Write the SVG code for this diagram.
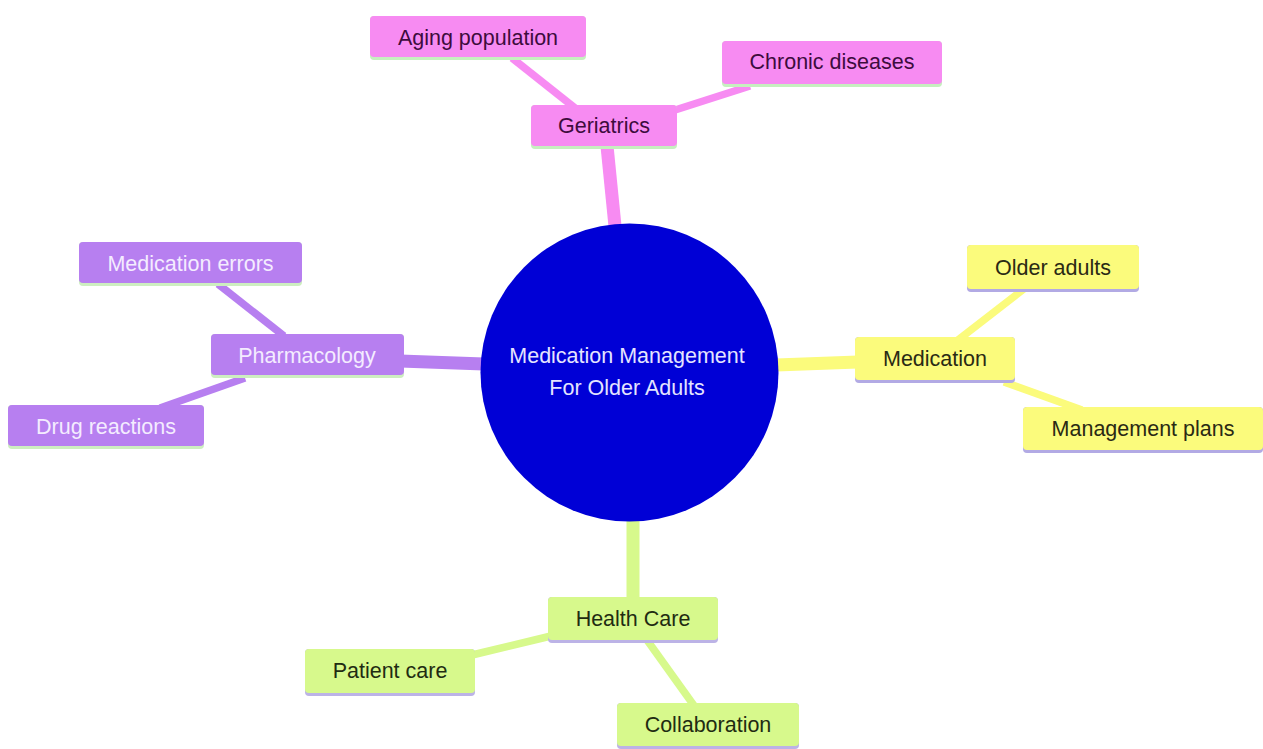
<svg xmlns="http://www.w3.org/2000/svg" width="1263" height="749" viewBox="0 0 1263 749">
<style>
text{font-family:"Liberation Sans",Arial,sans-serif;font-size:21.5px;text-anchor:middle}
.pk{fill:#f78bf2}.pkb{fill:#c6efbf}.pkt{fill:#3d0c3d}
.pu{fill:#b77ff0}.pub{fill:#cdeec0}.put{fill:#f4ecff}
.ye{fill:#fbfb7c}.yeb{fill:#b2aae4}.yet{fill:#2a2a14}
.gr{fill:#d7f98c}.grb{fill:#bcb3e6}.grt{fill:#1f2c12}
.c{fill:none;stroke-linecap:butt}
.cpk{stroke:#f78bf2}.cpu{stroke:#b77ff0}.cye{stroke:#fbfb7c}.cgr{stroke:#d7f98c}
.main{stroke-width:13}.sub{stroke-width:7.5}
</style>
<rect width="1263" height="749" fill="#ffffff"/>
<g id="connectors">
<line class="c cpk main" x1="607" y1="146" x2="615" y2="226"/>
<line class="c cpk sub" x1="512" y1="58" x2="575" y2="108"/>
<line class="c cpk sub" x1="750" y1="86" x2="672" y2="111"/>
<line class="c cpu main" x1="400" y1="361" x2="484" y2="364"/>
<line class="c cpu sub" x1="218" y1="284" x2="284" y2="336"/>
<line class="c cpu sub" x1="160" y1="408" x2="245" y2="378"/>
<line class="c cye main" x1="776" y1="365" x2="858" y2="362"/>
<line class="c cye sub" x1="1025" y1="288" x2="958" y2="340"/>
<line class="c cye sub" x1="1004" y1="382" x2="1082" y2="410"/>
<line class="c cgr main" x1="633" y1="518" x2="633" y2="600"/>
<line class="c cgr sub" x1="472" y1="655" x2="551" y2="636"/>
<line class="c cgr sub" x1="647" y1="640" x2="695" y2="707"/>
</g>
<g id="root">
<circle cx="629.5" cy="372.5" r="149" fill="#0000d6"/>
<text x="627" y="363" fill="#e4e4ff">Medication Management</text>
<text x="627" y="395" fill="#e4e4ff">For Older Adults</text>
</g>
<g id="geriatrics">
<rect class="pkb" x="531" y="105" width="146" height="44" rx="4"/>
<rect class="pk" x="531" y="105" width="146" height="41" rx="4"/>
<text class="pkt" x="604" y="133">Geriatrics</text>
</g>
<g id="aging-population">
<rect class="pkb" x="370" y="16" width="216" height="44" rx="4"/>
<rect class="pk" x="370" y="16" width="216" height="41" rx="4"/>
<text class="pkt" x="478" y="45">Aging population</text>
</g>
<g id="chronic-diseases">
<rect class="pkb" x="722" y="41" width="220" height="46" rx="4"/>
<rect class="pk" x="722" y="41" width="220" height="43" rx="4"/>
<text class="pkt" x="832" y="69">Chronic diseases</text>
</g>
<g id="pharmacology">
<rect class="pub" x="211" y="334" width="193" height="44" rx="4"/>
<rect class="pu" x="211" y="334" width="193" height="41" rx="4"/>
<text class="put" x="307" y="363">Pharmacology</text>
</g>
<g id="medication-errors">
<rect class="pub" x="79" y="242" width="223" height="44" rx="4"/>
<rect class="pu" x="79" y="242" width="223" height="41" rx="4"/>
<text class="put" x="190.5" y="271">Medication errors</text>
</g>
<g id="drug-reactions">
<rect class="pub" x="8" y="405" width="196" height="44" rx="4"/>
<rect class="pu" x="8" y="405" width="196" height="41" rx="4"/>
<text class="put" x="106" y="434">Drug reactions</text>
</g>
<g id="medication">
<rect class="yeb" x="855" y="337" width="160" height="46" rx="4"/>
<rect class="ye" x="855" y="337" width="160" height="43" rx="4"/>
<text class="yet" x="935" y="366">Medication</text>
</g>
<g id="older-adults">
<rect class="yeb" x="967" y="245" width="172" height="47" rx="4"/>
<rect class="ye" x="967" y="245" width="172" height="44" rx="4"/>
<text class="yet" x="1053" y="275">Older adults</text>
</g>
<g id="management-plans">
<rect class="yeb" x="1023" y="407" width="240" height="46" rx="4"/>
<rect class="ye" x="1023" y="407" width="240" height="43" rx="4"/>
<text class="yet" x="1143" y="436">Management plans</text>
</g>
<g id="health-care">
<rect class="grb" x="548" y="597" width="170" height="46" rx="4"/>
<rect class="gr" x="548" y="597" width="170" height="43" rx="4"/>
<text class="grt" x="633" y="626">Health Care</text>
</g>
<g id="patient-care">
<rect class="grb" x="305" y="649" width="170" height="47" rx="4"/>
<rect class="gr" x="305" y="649" width="170" height="44" rx="4"/>
<text class="grt" x="390" y="678">Patient care</text>
</g>
<g id="collaboration">
<rect class="grb" x="617" y="703" width="182" height="46" rx="4"/>
<rect class="gr" x="617" y="703" width="182" height="43" rx="4"/>
<text class="grt" x="708" y="732">Collaboration</text>
</g>
</svg>
